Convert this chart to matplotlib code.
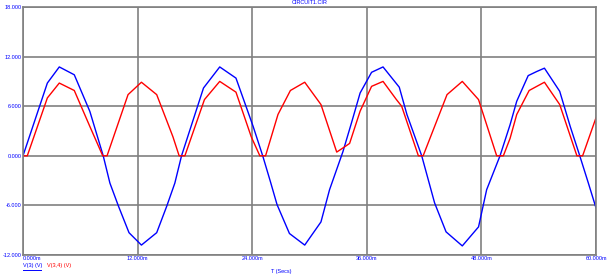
import matplotlib
matplotlib.use("Agg")
import matplotlib.pyplot as plt

plt.rcParams['font.family'] = ['Liberation Sans', 'DejaVu Sans']

# V(3): blue series (time in ms, volts)
t_blue = [0.0, 2.55, 3.8, 5.37, 7.0, 8.4, 9.1, 10.0, 11.1, 12.4, 14.0, 15.05, 15.9,
          16.6, 18.9, 20.6, 22.3, 24.1, 25.1, 25.9, 26.6, 27.9, 29.5, 31.2, 32.1,
          33.5, 34.4, 35.3, 36.5, 37.7, 39.4, 40.2, 41.75, 43.1, 44.3, 46.0, 47.7,
          48.55, 49.95, 51.0, 51.7, 52.9, 53.8, 54.6, 56.2, 57.3, 58.3, 59.2, 60.0]
v_blue = [0.0, 8.8, 10.75, 9.8, 5.37, 0.0, -3.3, -6.1, -9.3, -10.8, -9.3, -6.1, -3.3,
          0.0, 8.2, 10.75, 9.4, 3.55, 0.0, -3.1, -5.9, -9.4, -10.8, -8.0, -4.1,
          0.5, 4.0, 7.6, 10.1, 10.75, 8.3, 5.0, 0.0, -5.7, -9.2, -10.9, -8.6,
          -4.1, 0.0, 3.75, 6.6, 9.7, 10.2, 10.6, 7.8, 3.55, 0.0, -3.3, -6.3]

# V(3,4): red series (time in ms, volts)
t_red = [0.0, 0.45, 2.55, 3.8, 5.37, 7.0, 8.35, 8.8, 11.0, 12.4, 14.0, 15.7, 16.35,
         16.95, 19.0, 20.6, 22.3, 23.9, 24.8, 25.4, 26.7, 28.0, 29.5, 31.2, 32.85,
         33.7, 34.2, 35.3, 36.5, 37.7, 39.1, 39.65, 41.4, 41.9, 44.4, 46.0, 47.7,
         49.6, 50.3, 51.0, 51.7, 53.0, 54.6, 56.2, 58.0, 58.6, 60.0]
v_red = [0.0, 0.0, 7.0, 8.8, 7.9, 3.55, 0.0, 0.0, 7.4, 8.9, 7.4, 2.3, 0.0,
         0.0, 6.8, 9.0, 7.7, 2.3, 0.0, 0.0, 5.0, 7.9, 8.9, 6.2, 0.45,
         1.1, 1.5, 5.4, 8.4, 9.0, 6.8, 6.0, 0.0, 0.0, 7.4, 9.0, 6.8,
         0.0, 0.0, 2.1, 5.0, 7.9, 8.9, 6.2, 0.0, 0.0, 4.6]

x_ticks = [0, 12, 24, 36, 48, 60]
x_tick_labels = ["0.000m", "12.000m", "24.000m", "36.000m", "48.000m", "60.000m"]
y_ticks = [18, 12, 6, 0, -6, -12]
y_tick_labels = ["18.000", "12.000", "6.000", "0.000", "-6.000", "-12.000"]

FS = 4.0
W, H = 612, 280
fig = plt.figure(figsize=(W / 100, H / 100), dpi=100)
ax = fig.add_axes([23 / W, (H - 255) / H, (596 - 23) / W, (255 - 7) / H])

ax.plot(t_blue, v_blue, color="#0000ff", lw=1.0)
ax.plot(t_red, v_red, color="#ff0000", lw=1.0)

ax.set_xlim(0, 60)
ax.set_ylim(-12, 18)
ax.set_xticks(x_ticks)
ax.set_yticks(y_ticks)
ax.set_xticklabels(x_tick_labels)
ax.set_yticklabels(y_tick_labels)
for lbl in ax.get_xticklabels():
    lbl.set_color("#0000ff")
    lbl.set_fontsize(FS)
for lbl in ax.get_yticklabels():
    lbl.set_color("#0000ff")
    lbl.set_fontsize(FS)
ax.get_xticklabels()[0].set_horizontalalignment("left")
ax.tick_params(axis="both", length=0, pad=1.0)

ax.grid(True, color="#808080", lw=1.2)
ax.set_axisbelow(True)
for s in ax.spines.values():
    s.set_color("#808080")
    s.set_linewidth(1.2)

fig.text(0.5 * (23 + 596) / W, 1 - 3 / H, "CIRCUIT1.CIR", color="#0000ff",
         fontsize=FS, ha="center", va="center")
fig.text(281 / W, 1 - 272 / H, "T (Secs)", color="#0000ff", fontsize=FS,
         ha="center", va="center")
fig.text(23 / W, 1 - 266 / H, "V(3) (V)", color="#0000ff", fontsize=FS,
         ha="left", va="center")
fig.text(47 / W, 1 - 266 / H, "V(3,4) (V)", color="#ff0000", fontsize=FS,
         ha="left", va="center")
fig.add_artist(plt.Line2D([23 / W, 41 / W], [1 - 269.5 / H, 1 - 269.5 / H],
                          color="#0000ff", lw=0.7))

fig.savefig("out.png", dpi=100, facecolor="white")
